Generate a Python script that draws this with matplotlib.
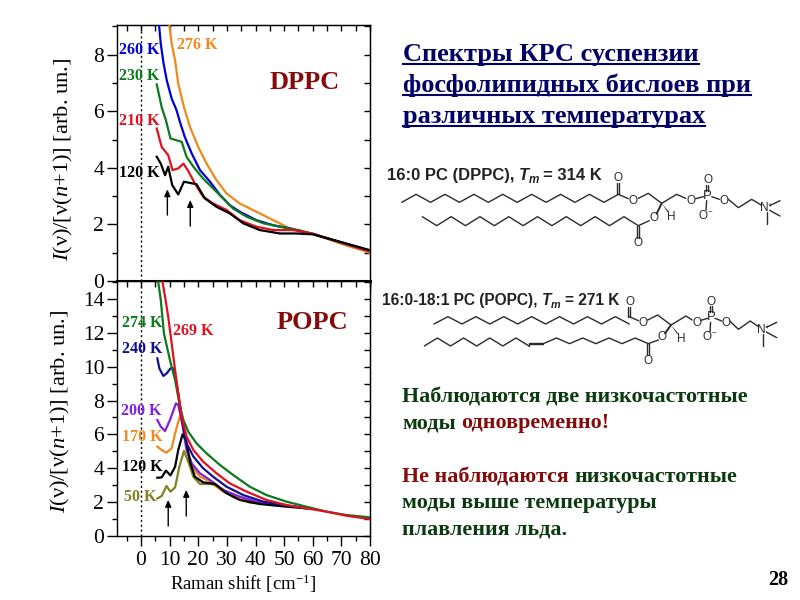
"""Raman spectra of phospholipid bilayers: two panels plus slide text."""

import matplotlib

matplotlib.use("Agg")
import matplotlib.pyplot as plt
from matplotlib.ticker import MultipleLocator

plt.rcParams["font.family"] = ["Liberation Serif", "DejaVu Serif"]
plt.rcParams["mathtext.fontset"] = "custom"
plt.rcParams["mathtext.rm"] = "Liberation Serif"
plt.rcParams["mathtext.it"] = "Liberation Serif:italic"
plt.rcParams["mathtext.bf"] = "Liberation Serif:bold"

# DPPC panel
dppc_276_x = [9.9, 10.7, 11.9, 13.0, 15, 17.1, 20, 22.9, 26.4, 29.9, 34.5, 40.3, 46.2, 52, 60, 69.4, 80]
dppc_276_y = [9.04, 8.39, 7.8, 6.98, 6.15, 5.45, 4.74, 4.15, 3.56, 3.09, 2.74, 2.45, 2.15, 1.86, 1.68, 1.33, 1.0]
dppc_260_x = [6.3, 6.9, 7.8, 9, 10.7, 12.4, 13.6, 15.3, 17.7, 20.6, 24.1, 27.6, 31, 34.5, 40.3, 46.2, 52, 60, 70, 80]
dppc_260_y = [9.04, 8.39, 7.74, 7.09, 6.45, 6.04, 5.62, 5.09, 4.51, 3.92, 3.51, 3.04, 2.68, 2.45, 2.15, 1.97, 1.86, 1.66, 1.36, 1.05]
dppc_230_x = [5.5, 7.2, 8.7, 10.3, 14.2, 15.9, 18.3, 21.7, 25.2, 28.7, 32.2, 36.9, 42.7, 48.5, 55.5, 60, 70, 80]
dppc_230_y = [6.95, 6.15, 5.68, 5.04, 4.92, 4.39, 4.04, 3.62, 3.27, 2.92, 2.56, 2.27, 2.04, 1.92, 1.78, 1.66, 1.36, 1.06]
dppc_210_x = [5.5, 7.2, 9.5, 11, 13, 14.8, 16.5, 18.8, 21.7, 25.2, 29.9, 34.5, 40.3, 46.2, 53.1, 60.1, 70, 80]
dppc_210_y = [5.39, 4.74, 4.45, 3.92, 3.98, 4.15, 3.89, 3.45, 2.98, 2.74, 2.51, 2.15, 1.92, 1.8, 1.8, 1.67, 1.36, 1.05]
dppc_120_x = [5.5, 6.9, 8.4, 9.5, 10.9, 13, 15, 19.4, 22.3, 26.4, 31, 35.7, 41.5, 48.5, 54.3, 60.1, 69.4, 80]
dppc_120_y = [4.39, 4.15, 3.74, 4.04, 3.39, 3.06, 3.51, 3.42, 2.92, 2.62, 2.39, 2.04, 1.8, 1.68, 1.68, 1.65, 1.39, 1.09]

# POPC panel
popc_274_x = [6, 6.9, 8, 10.1, 11.9, 13.4, 14.8, 16.5, 19.4, 22.9, 27.6, 32.2, 38, 43.8, 50.8, 57.8, 64.8, 71.7, 80]
popc_274_y = [15.0, 13.94, 11.97, 10.39, 9.21, 7.83, 6.85, 6.16, 5.47, 4.88, 4.19, 3.6, 2.91, 2.42, 2.03, 1.73, 1.44, 1.24, 1.1]
popc_269_x = [7.4, 8.4, 9.5, 10.7, 11.9, 13, 14.2, 15.9, 18.3, 21.7, 26.4, 31, 36.9, 43.8, 50.8, 57.8, 64.8, 71.7, 80]
popc_269_y = [15.1, 14.13, 12.95, 11.38, 9.8, 8.43, 7.05, 5.87, 5.08, 4.39, 3.7, 3.11, 2.62, 2.13, 1.83, 1.63, 1.44, 1.2, 1.0]
popc_240_x = [5.7, 6.4, 7.8, 9, 10.3, 11.3, 12.2, 13, 14.2, 15.9, 18.3, 21.7, 25.2, 29.9, 35.7, 42.7, 49.7, 57.8]
popc_240_y = [10.49, 9.9, 9.45, 9.61, 9.9, 9.9, 9.21, 8.43, 6.95, 5.47, 4.69, 4.0, 3.5, 2.91, 2.42, 2.03, 1.83, 1.64]
popc_200_x = [5.7, 6.9, 8.4, 10.1, 12.2, 13, 14.2, 15.9, 17.7, 20.6, 24.1, 28.7, 34.5, 40.3, 48.5, 55.5]
popc_200_y = [6.85, 6.46, 6.2, 6.85, 7.83, 7.74, 6.85, 5.08, 4.29, 3.7, 3.31, 2.72, 2.32, 2.03, 1.83, 1.7]
popc_170_x = [5.7, 7.2, 8.9, 10.7, 11.9, 13.6, 14.8, 16.5, 18.3, 20.6, 24.1, 28.7, 34.5, 41.5, 49.7]
popc_170_y = [5.28, 5.08, 4.92, 5.18, 6.06, 7.09, 6.46, 4.88, 4.0, 3.5, 3.21, 2.62, 2.22, 1.93, 1.83]
popc_120_x = [5.7, 7.2, 8.7, 10.3, 11.9, 13, 14.5, 15.7, 17.1, 18.8, 21.7, 25.8, 29.9, 34.5, 41.5, 49.7, 57.8]
popc_120_y = [3.44, 3.46, 3.86, 3.58, 4.09, 5.08, 6.0, 5.67, 4.39, 3.5, 3.17, 3.07, 2.52, 2.13, 1.89, 1.75, 1.63]
popc_50_x = [5.7, 7.2, 8.9, 10.3, 11.9, 13.4, 15, 16.5, 18.3, 20.6, 24.7, 28.1, 32.2, 38, 43.8, 50.8]
popc_50_y = [2.22, 2.36, 2.95, 2.62, 2.87, 4.09, 5.02, 4.39, 3.5, 3.07, 3.07, 2.81, 2.32, 1.97, 1.89, 1.83]

ORANGE = "#f0881c"
BLUE = "#0000d8"
GREEN = "#0b7a1c"
RED = "#e2101e"
BLACK = "#000000"
NAVY = "#101090"
PURPLE = "#8020e0"
OLIVE = "#808020"
DARK_RED = "#850a0a"
TEXT_GREEN = "#0c3a10"
MOL_GREY = "#2a2a2a"

dppc_series = [
    (dppc_276_x, dppc_276_y, ORANGE),
    (dppc_260_x, dppc_260_y, BLUE),
    (dppc_230_x, dppc_230_y, GREEN),
    (dppc_210_x, dppc_210_y, RED),
    (dppc_120_x, dppc_120_y, BLACK),
]
popc_series = [
    (popc_50_x, popc_50_y, OLIVE),
    (popc_170_x, popc_170_y, ORANGE),
    (popc_200_x, popc_200_y, PURPLE),
    (popc_120_x, popc_120_y, BLACK),
    (popc_240_x, popc_240_y, NAVY),
    (popc_274_x, popc_274_y, GREEN),
    (popc_269_x, popc_269_y, RED),
]
dppc_labels = [
    (-7.6, 8.15, "260 K", BLUE),
    (12.7, 8.35, "276 K", ORANGE),
    (-7.6, 7.24, "230 K", GREEN),
    (-7.6, 5.66, "210 K", RED),
    (-7.6, 3.82, "120 K", BLACK),
]
popc_labels = [
    (-6.7, 12.56, "274 K", GREEN),
    (11.0, 12.13, "269 K", RED),
    (-6.7, 11.02, "240 K", NAVY),
    (-7.0, 7.4, "200 K", PURPLE),
    (-6.7, 5.83, "170 K", ORANGE),
    (-6.7, 4.09, "120 K", BLACK),
    (-5.8, 2.32, "50 K", OLIVE),
]
dppc_arrows = [(9.2, 2.33, 3.24), (17.2, 1.94, 2.86)]
popc_arrows = [(9.5, 0.59, 2.13), (15.8, 1.18, 2.72)]

title_lines = ["Спектры КРС суспензии", "фосфолипидных бислоев при", "различных температурах"]


def style_panel(axis, ymax, ymajor):
    axis.set_xlim(-8.5, 80)
    axis.set_ylim(0, ymax)
    axis.xaxis.set_major_locator(MultipleLocator(10))
    axis.xaxis.set_minor_locator(MultipleLocator(5))
    axis.yaxis.set_major_locator(MultipleLocator(ymajor))
    axis.yaxis.set_minor_locator(MultipleLocator(ymajor / 2))
    axis.tick_params(which="major", direction="out", length=7, width=1, labelsize=15.5)
    axis.tick_params(which="minor", direction="out", length=3.5, width=1)
    axis.tick_params(axis="y", which="major", pad=2)
    axis.axvline(0, color="black", lw=1, ls=(0, (1.5, 2)), zorder=1)
    for spine in axis.spines.values():
        spine.set_linewidth(1)
    # inward ticks on the opposite sides
    top = axis.secondary_xaxis("top")
    top.xaxis.set_major_locator(MultipleLocator(5))
    top.tick_params(direction="in", length=4, width=1, labeltop=False)
    right = axis.secondary_yaxis("right")
    right.yaxis.set_major_locator(MultipleLocator(ymajor / 2))
    right.tick_params(direction="in", length=4, width=1, labelright=False)


def draw_panel(axis, series, labels, arrows):
    for xs, ys, color in series:
        axis.plot(xs, ys, color=color, lw=1.6, zorder=3, solid_joinstyle="round")
    for x, y, text, color in labels:
        axis.text(x, y, text, color=color, fontsize=11.5, fontweight="bold", va="center", zorder=5)
    for x, tail, head in arrows:
        axis.annotate(
            "",
            xy=(x, head),
            xytext=(x, tail),
            arrowprops=dict(arrowstyle="-|>,head_width=0.18,head_length=0.4", color="black", lw=1, shrinkA=0, shrinkB=0),
            zorder=6,
        )


def text_width(fig, text_obj):
    return text_obj.get_window_extent(fig.canvas.get_renderer()).width


def colored_line(fig, axis, x, y, pieces, **kwargs):
    """Place text pieces one after another on a shared baseline (pixel coordinates)."""
    for text, style in pieces:
        merged = dict(kwargs)
        merged.update(style)
        stripped = text.rstrip(" ")
        item = axis.text(x, y, stripped, va="baseline", ha="left", **merged)
        x += text_width(fig, item)
        x += (len(text) - len(stripped)) * merged["fontsize"] * 0.35
    return x


def zigzag(x0, x1, bonds, y_first, y_second):
    step = (x1 - x0) / bonds
    return (
        [x0 + step * i for i in range(bonds + 1)],
        [y_first if i % 2 == 0 else y_second for i in range(bonds + 1)],
    )


def bond(axis, points, lw=1.0):
    axis.plot([p[0] for p in points], [p[1] for p in points], color=MOL_GREY, lw=lw, solid_capstyle="round")


def double_bond(axis, a, b, dx, dy):
    bond(axis, [(a[0] - dx, a[1] - dy), (b[0] - dx, b[1] - dy)])
    bond(axis, [(a[0] + dx, a[1] + dy), (b[0] + dx, b[1] + dy)])


def atom(axis, x, y, label, size=8.5):
    axis.text(x, y, label, ha="center", va="center", fontsize=size, color=MOL_GREY, family="Liberation Sans")


def wedge(axis, tip, end, half=4):
    axis.fill([tip[0], end[0] - half, end[0] + half], [tip[1], end[1], end[1]], color=MOL_GREY, lw=0)


def draw_head(axis, c, sx=1.0):
    """Glycerol and phosphocholine head; c is the chiral carbon, offsets in crop units."""
    cx, cy = c
    bond(axis, [(cx - 70, cy - 15), (cx - 40, cy - 30), (cx, cy), (cx + 45, cy - 27), (cx + 72 * sx, cy - 15)])
    atom(axis, cx + 87 * sx, cy - 7, "O")
    bond(axis, [(cx + 102 * sx, cy - 14), (cx + 125 * sx, cy - 20)])
    atom(axis, cx + 137 * sx, cy - 23, "P", 9.5)
    double_bond(axis, (cx + 137 * sx, cy - 38), (cx + 137 * sx, cy - 56), 3, 0)
    atom(axis, cx + 138 * sx, cy - 70, "O")
    bond(axis, [(cx + 135 * sx, cy - 8), (cx + 133 * sx, cy + 20)])
    atom(axis, cx + 133 * sx, cy + 36, "O$^{-}$")
    bond(axis, [(cx + 150 * sx, cy - 20), (cx + 173 * sx, cy - 12)])
    atom(axis, cx + 187 * sx, cy - 7, "O")
    bond(axis, [(cx + 200 * sx, cy - 12), (cx + 230 * sx, cy + 13), (cx + 270 * sx, cy - 12), (cx + 300 * sx, cy + 6)])
    nx, ny = cx + 315 * sx, cy + 14
    atom(axis, nx, ny, "N$^{+}$")
    bond(axis, [(nx + 9, ny - 7), (nx + 40, ny - 22)])
    bond(axis, [(nx + 9, ny + 7), (nx + 40, ny + 24)])
    bond(axis, [(nx, ny + 12), (nx, ny + 48)])
    wedge(axis, (cx, cy), (cx + 20, cy + 26), 2.5)
    atom(axis, cx + 30, cy + 42, "H")


def draw_molecules(axis):
    # DPPC
    xs, ys = zigzag(65, 715, 15, 142, 118)
    bond(axis, list(zip(xs, ys)))
    double_bond(axis, (715, 118), (715, 85), 3, 0)
    atom(axis, 715, 68, "O")
    bond(axis, [(715, 118), (745, 131)])
    atom(axis, 760, 138, "O")
    draw_head(axis, (845, 145))
    xs, ys = zigzag(127, 775, 15, 185, 212)
    bond(axis, list(zip(xs, ys)))
    double_bond(axis, (775, 212), (775, 248), 3, 0)
    atom(axis, 775, 263, "O")
    bond(axis, [(775, 212), (808, 197)])
    atom(axis, 822, 188, "O")
    bond(axis, [(830, 176), (845, 145)], lw=1.4)

    # POPC
    xs, ys = zigzag(162, 748, 14, 507, 485)
    bond(axis, list(zip(xs, ys)))
    double_bond(axis, (748, 485), (748, 455), 3, 0)
    atom(axis, 750, 440, "O")
    bond(axis, [(748, 485), (775, 497)])
    atom(axis, 790, 505, "O")
    draw_head(axis, (873, 510), sx=0.88)
    xs, ys = zigzag(133, 447, 8, 573, 549)
    bond(axis, list(zip(xs, ys)))
    double_bond(axis, (447, 566), (490, 566), 0, 2)
    bond(axis, [(447, 573), (447, 566)])
    xs, ys = zigzag(490, 805, 8, 566, 549)
    bond(axis, list(zip(xs, ys)))
    double_bond(axis, (805, 566), (805, 600), 3, 0)
    atom(axis, 805, 617, "O")
    bond(axis, [(805, 566), (835, 555)])
    atom(axis, 847, 547, "O")
    bond(axis, [(855, 535), (873, 510)], lw=1.4)


def main():
    fig = plt.figure(figsize=(8, 6), dpi=100, facecolor="white")
    fig.canvas.draw()

    ax_top = fig.add_axes([116.7 / 800, 319 / 600, 253.3 / 800, 256 / 600])
    ax_bottom = fig.add_axes([116.7 / 800, 64 / 600, 253.3 / 800, 255 / 600])

    style_panel(ax_top, 9.05, 2)
    style_panel(ax_bottom, 15.06, 2)
    ax_top.tick_params(axis="x", labelbottom=False)
    ax_top.spines["bottom"].set_linewidth(2.2)

    draw_panel(ax_top, dppc_series, dppc_labels, dppc_arrows)
    draw_panel(ax_bottom, popc_series, popc_labels, popc_arrows)

    ax_top.text(45, 7.0, "DPPC", color=DARK_RED, fontsize=19, fontweight="bold", va="center")
    ax_bottom.text(47.3, 12.6, "POPC", color=DARK_RED, fontsize=19, fontweight="bold", va="center")
    ax_bottom.set_xlabel("Raman shift [cm$^{-1}$]", fontsize=13.5, labelpad=2)

    # slide text, in pixel coordinates of the picture
    page = fig.add_axes([0, 0, 1, 1], facecolor="none")
    page.set_xlim(0, 800)
    page.set_ylim(600, 0)
    page.axis("off")

    ylabel = r"$I$(ν)/[ν($n$+1)] [arb. un.]"
    page.text(63, 159, ylabel, fontsize=16.2, rotation=90, ha="center", va="center")
    page.text(60, 411, ylabel, fontsize=16.2, rotation=90, ha="center", va="center")

    for line, baseline in zip(title_lines, [61, 92, 123]):
        item = page.text(403, baseline, line, color="#000066", fontsize=19, fontweight="bold", va="baseline")
        page.plot([403, 403 + text_width(fig, item)], [baseline + 3, baseline + 3], color="#000066", lw=1.5)

    body = dict(fontsize=15.8, fontweight="bold")
    green = dict(color=TEXT_GREEN)
    red = dict(color=DARK_RED)
    colored_line(fig, page, 402, 402, [("Наблюдаются две низкочастотные", green)], **body)
    colored_line(fig, page, 402, 428, [("моды ", green), ("одновременно!", red)], **body)
    colored_line(fig, page, 402, 482, [("Не наблюдаются ", red), ("низкочастотные", green)], **body)
    colored_line(fig, page, 402, 508, [("моды выше температуры", green)], **body)
    colored_line(fig, page, 402, 535, [("плавления льда.", green)], **body)
    page.text(768, 585, "28", fontsize=14.5, fontweight="bold", color="black", va="baseline")

    for x, baseline, size, name, value in [
        (387, 180, 12, "16:0 PC (DPPC), ", "= 314 K"),
        (382, 305, 11.2, "16:0-18:1 PC (POPC), ", "= 271 K"),
    ]:
        sans = dict(family="Liberation Sans", color="#222222", fontweight="bold")
        end = colored_line(fig, page, x, baseline, [(name, {})], fontsize=size, **sans)
        end = colored_line(fig, page, end, baseline, [("T", dict(fontstyle="italic"))], fontsize=size, **sans)
        end = colored_line(fig, page, end, baseline + 3, [("m", dict(fontstyle="italic"))], fontsize=size * 0.7, **sans)
        colored_line(fig, page, end + 4, baseline, [(value, {})], fontsize=size, **sans)

    # molecule sketches, in crop units of the structure region
    mol = fig.add_axes([380 / 800, (600 - 370) / 600, 420 / 800, 215 / 600], facecolor="none")
    mol.set_xlim(0, 1260)
    mol.set_ylim(645, 0)
    mol.axis("off")
    draw_molecules(mol)

    fig.savefig("out.png", dpi=100, facecolor="white")
    plt.close(fig)


if __name__ == "__main__":
    main()
